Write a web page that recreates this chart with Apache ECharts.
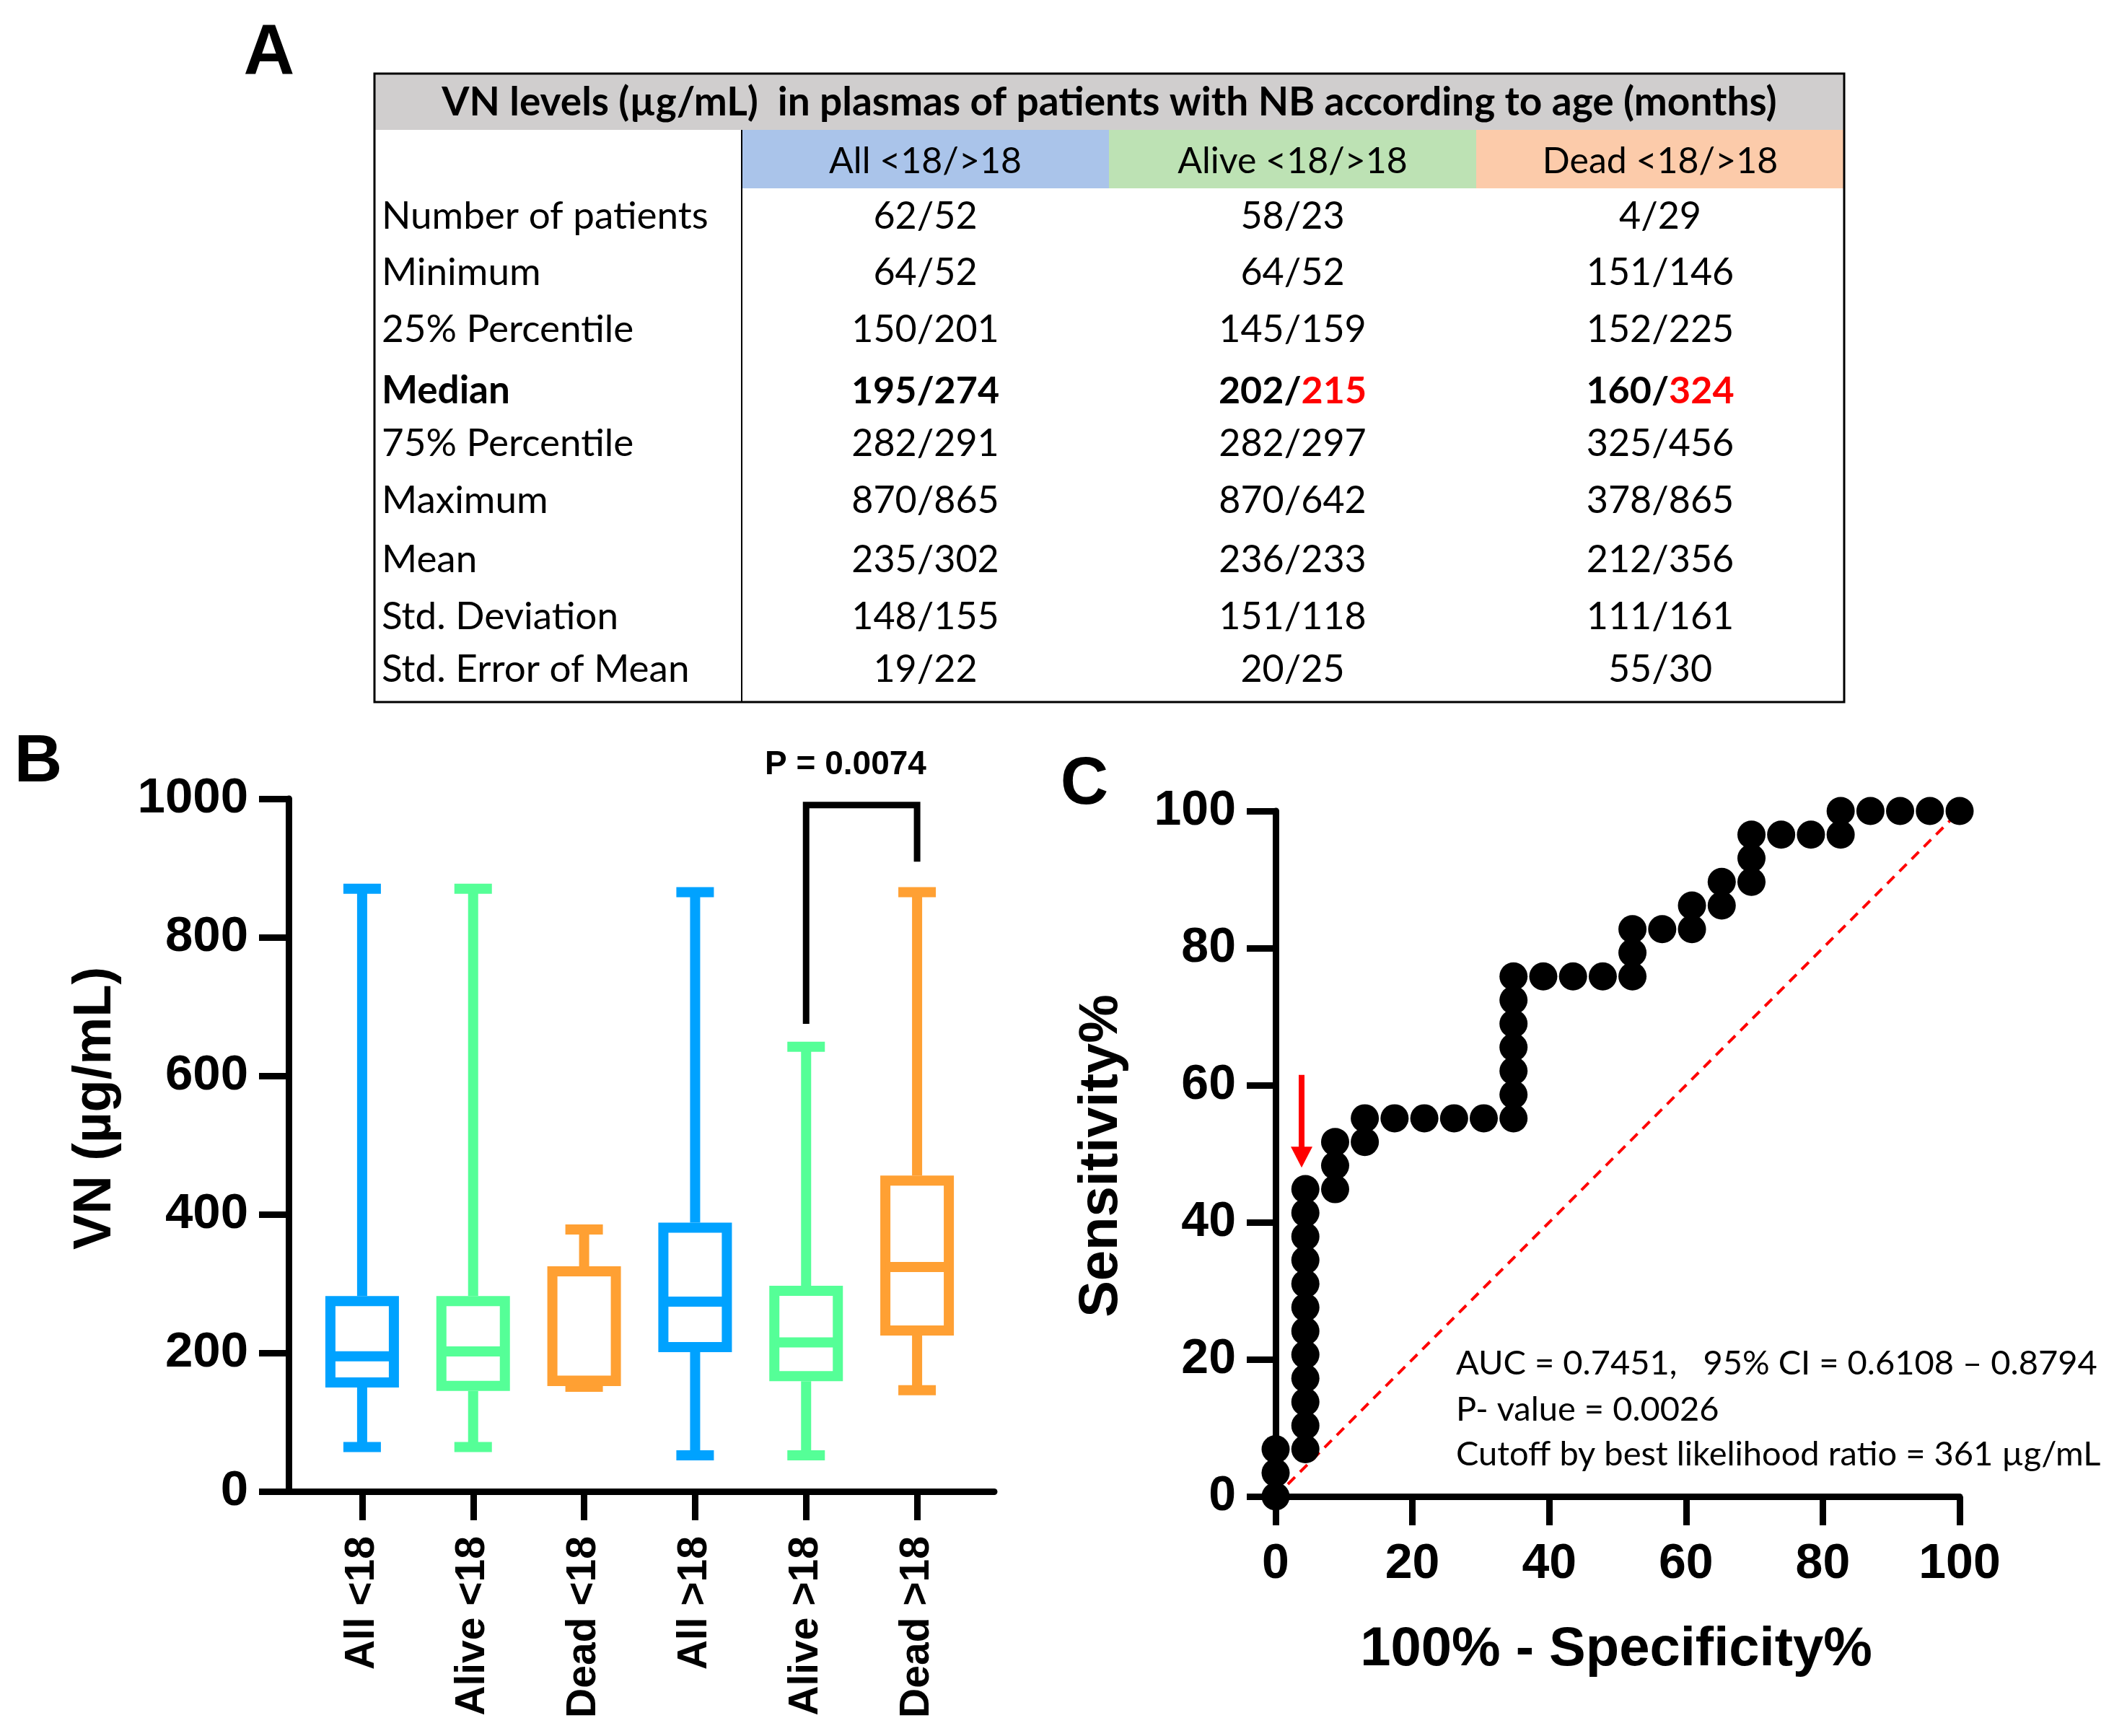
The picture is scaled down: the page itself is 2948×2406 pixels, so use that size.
<!DOCTYPE html>
<html><head><meta charset="utf-8">
<script src="https://cdn.jsdelivr.net/npm/echarts@6/dist/echarts.min.js"></script>
<style>html,body{margin:0;padding:0;background:#fff}#c{width:2948px;height:2406px}</style>
</head><body><div id="c"></div>
<script>
// ---------- Panel A: table ----------
const tableTitle = 'VN levels (µg/mL)  in plasmas of patients with NB according to age (months)';
const tableGroups = ['All <18/>18', 'Alive <18/>18', 'Dead <18/>18'];
const tableRowLabels = ['Number of patients', 'Minimum', '25% Percentile', 'Median', '75% Percentile', 'Maximum', 'Mean', 'Std. Deviation', 'Std. Error of Mean'];
const tableAll   = ['62/52', '64/52', '150/201', '195/274', '282/291', '870/865', '235/302', '148/155', '19/22'];
const tableAlive = ['58/23', '64/52', '145/159', '202/215', '282/297', '870/642', '236/233', '151/118', '20/25'];
const tableDead  = ['4/29', '151/146', '152/225', '160/324', '325/456', '378/865', '212/356', '111/161', '55/30'];
const boldRow = 'Median';
const redSecondPartCols = [1, 2];   // in the Median row, the >18 value is red for Alive and Dead

// ---------- Panel B: box plot ----------
const boxCategories = ['All <18', 'Alive <18', 'Dead <18', 'All >18', 'Alive >18', 'Dead >18'];
const boxMin    = [64, 64, 151, 52, 52, 146];
const boxQ1     = [150, 145, 152, 201, 159, 225];
const boxMedian = [195, 202, 160, 274, 215, 324];
const boxQ3     = [282, 282, 325, 388, 297, 456];
const boxMax    = [870, 870, 378, 865, 642, 865];
const bracketX = ['Alive >18', 'Alive >18', 'Dead >18', 'Dead >18'];
const bracketY = [675, 991, 991, 909];
const pValueText = 'P = 0.0074';
const bTicks = [0, 200, 400, 600, 800, 1000];

// ---------- Panel C: ROC ----------
const rocFPR = [0,0,0,4.35,4.35,4.35,4.35,4.35,4.35,4.35,4.35,4.35,4.35,4.35,4.35,8.7,8.7,8.7,13.04,13.04,17.39,21.74,26.09,30.43,34.78,34.78,34.78,34.78,34.78,34.78,34.78,39.13,43.48,47.83,52.17,52.17,52.17,56.52,60.87,60.87,65.22,65.22,69.57,69.57,69.57,73.91,78.26,82.61,82.61,86.96,91.3,95.65,100];
const rocTPR = [0,3.45,6.9,6.9,10.34,13.79,17.24,20.69,24.14,27.59,31.03,34.48,37.93,41.38,44.83,44.83,48.28,51.72,51.72,55.17,55.17,55.17,55.17,55.17,55.17,58.62,62.07,65.52,68.97,72.41,75.86,75.86,75.86,75.86,75.86,79.31,82.76,82.76,82.76,86.21,86.21,89.66,89.66,93.1,96.55,96.55,96.55,96.55,100,100,100,100,100];
const chanceX = [0, 100];
const chanceY = [0, 100];
const arrowX = 3.8, arrowTop = 61.5, arrowEnd = 49.5;
const rocNotes = ['AUC = 0.7451,   95% CI = 0.6108 – 0.8794', 'P- value = 0.0026', 'Cutoff by best likelihood ratio = 361 µg/mL'];

// ---------- styling ----------
const AX = "'Liberation Sans', Arial, sans-serif";
const TB = "Lato, 'Open Sans', sans-serif";
const boxColors = ['#00A2FF', '#55FF97', '#FFA033', '#00A2FF', '#55FF97', '#FFA033'];
const headerColors = ['#AAC4EA', '#BDE2B4', '#FCCBAA'];

// table layout
const T = {x0: 519, x1: 2556, y0: 102, yHead: 180, yCols: 261, y1: 973, colX: [1028, 1537, 2046, 2556]};
const rowY = [300, 378, 457, 542, 615, 694, 776, 855, 928];

const graphics = [];
graphics.push({type: 'rect', shape: {x: T.x0, y: T.y0, width: T.x1 - T.x0, height: T.yHead - T.y0}, style: {fill: '#D0CECE'}});
tableGroups.forEach((g, i) => {
  graphics.push({type: 'rect', shape: {x: T.colX[i], y: T.yHead, width: T.colX[i + 1] - T.colX[i], height: T.yCols - T.yHead}, style: {fill: headerColors[i]}});
  graphics.push({type: 'text', x: (T.colX[i] + T.colX[i + 1]) / 2, y: 224, style: {text: g, font: `50px ${TB}`, fill: '#000', align: 'center', verticalAlign: 'middle'}});
});
graphics.push({type: 'line', shape: {x1: T.colX[0], y1: T.yHead, x2: T.colX[0], y2: T.y1}, style: {stroke: '#000', lineWidth: 2}});
graphics.push({type: 'rect', shape: {x: T.x0, y: T.y0, width: T.x1 - T.x0, height: T.y1 - T.y0}, style: {fill: 'none', stroke: '#000', lineWidth: 3}});
graphics.push({type: 'text', x: (T.x0 + T.x1) / 2, y: 142, style: {text: tableTitle, font: `bold 55px ${TB}`, fill: '#000', align: 'center', verticalAlign: 'middle'}});
const cols = [tableAll, tableAlive, tableDead];
tableRowLabels.forEach((lab, r) => {
  const isBold = lab === boldRow;
  const w = isBold ? 'bold ' : '';
  graphics.push({type: 'text', x: 529, y: rowY[r], style: {text: lab, font: `${w}53px ${TB}`, fill: '#000', align: 'left', verticalAlign: 'middle'}});
  cols.forEach((col, c) => {
    let txt = col[r];
    if (isBold && redSecondPartCols.includes(c)) {
      const parts = txt.split('/');
      txt = parts[0] + '/{r|' + parts[1] + '}';
    }
    graphics.push({type: 'text', x: (T.colX[c] + T.colX[c + 1]) / 2, y: rowY[r], style: {
      text: txt, font: `${w}52px ${TB}`, fill: '#000', align: 'center', verticalAlign: 'middle',
      rich: {r: {fill: '#FF0000', font: `${w}52px ${TB}`}}
    }});
  });
});
// panel letters
graphics.push({type: 'text', x: 373, y: 75, style: {text: 'A', font: `bold 98px ${AX}`, fill: '#000', align: 'center', verticalAlign: 'middle'}});
graphics.push({type: 'text', x: 53, y: 1058, style: {text: 'B', font: `bold 92px ${AX}`, fill: '#000', align: 'center', verticalAlign: 'middle'}});
graphics.push({type: 'text', x: 1503, y: 1089, style: {text: 'C', font: `bold 92px ${AX}`, fill: '#000', align: 'center', verticalAlign: 'middle'}});
// axis titles & annotations
graphics.push({type: 'text', x: 133, y: 1536, rotation: Math.PI / 2, style: {text: 'VN (µg/mL)', font: `bold 74px ${AX}`, fill: '#000', align: 'center', verticalAlign: 'middle'}});
graphics.push({type: 'text', x: 1172, y: 1060, style: {text: pValueText, font: `bold 46px ${AX}`, fill: '#000', align: 'center', verticalAlign: 'middle'}});
graphics.push({type: 'text', x: 1527, y: 1602, rotation: Math.PI / 2, style: {text: 'Sensitivity%', font: `bold 76px ${AX}`, fill: '#000', align: 'center', verticalAlign: 'middle'}});
graphics.push({type: 'text', x: 2240, y: 2287, style: {text: '100% - Specificity%', font: `bold 76px ${AX}`, fill: '#000', align: 'center', verticalAlign: 'middle'}});
const noteY = [1890, 1954, 2016];
rocNotes.forEach((t, i) => graphics.push({type: 'text', x: 2018, y: noteY[i], style: {text: t, font: `47px ${TB}`, fill: '#000', align: 'left', verticalAlign: 'middle'}}));

const axisLineStyle = {color: '#000', width: 9};
const tickStyle = {color: '#000', width: 9};
const plainNum = v => String(v);

const option = {
  animation: false,
  backgroundColor: '#fff',
  grid: [
    {left: 425, top: 1107, width: 923, height: 960, containLabel: false, outerBoundsMode: 'none'},
    {left: 400, top: 1107, width: 978, height: 960, containLabel: false, outerBoundsMode: 'none'},
    {left: 1768, top: 1124, width: 948, height: 950, containLabel: false, outerBoundsMode: 'none'}
  ],
  xAxis: [
    {gridIndex: 0, type: 'category', data: boxCategories, boundaryGap: true,
      axisLine: {show: false}, axisTick: {show: true, alignWithLabel: true, length: 40, lineStyle: tickStyle},
      axisLabel: {rotate: 90, margin: 62, fontFamily: AX, fontWeight: 'bold', fontSize: 57, color: '#000', interval: 0},
      splitLine: {show: false}},
    {gridIndex: 1, type: 'value', min: 0, max: 1, axisLine: {show: true, lineStyle: axisLineStyle},
      axisTick: {show: false}, axisLabel: {show: false}, splitLine: {show: false}},
    {gridIndex: 2, type: 'value', min: 0, max: 100, interval: 20,
      axisLine: {show: true, onZero: false, lineStyle: axisLineStyle},
      axisTick: {show: true, length: 40, lineStyle: tickStyle},
      axisLabel: {margin: 60, fontFamily: AX, fontWeight: 'bold', fontSize: 68, color: '#000', formatter: plainNum},
      splitLine: {show: false}}
  ],
  yAxis: [
    {gridIndex: 0, type: 'value', min: bTicks[0], max: bTicks[bTicks.length - 1], interval: bTicks[1] - bTicks[0], offset: 25,
      axisLine: {show: true, lineStyle: axisLineStyle},
      axisTick: {show: true, length: 41, lineStyle: tickStyle},
      axisLabel: {margin: 56, fontFamily: AX, fontWeight: 'bold', fontSize: 69, color: '#000', formatter: plainNum},
      splitLine: {show: false}},
    {gridIndex: 1, type: 'value', min: 0, max: 1, show: false},
    {gridIndex: 2, type: 'value', min: 0, max: 100, interval: 20,
      axisLine: {show: true, onZero: false, lineStyle: axisLineStyle},
      axisTick: {show: true, length: 40, lineStyle: tickStyle},
      axisLabel: {margin: 55, fontFamily: AX, fontWeight: 'bold', fontSize: 68, color: '#000', formatter: plainNum},
      splitLine: {show: false}}
  ],
  series: [
    {
      type: 'custom', xAxisIndex: 0, yAxisIndex: 0,
      data: boxCategories.map((c, i) => [i, boxMin[i], boxQ1[i], boxMedian[i], boxQ3[i], boxMax[i]]),
      encode: {x: 0, y: [1, 2, 3, 4, 5]},
      renderItem: function (params, api) {
        const i = api.value(0);
        const x = api.coord([i, 0])[0];
        const yMin = api.coord([i, api.value(1)])[1];
        const yQ1 = api.coord([i, api.value(2)])[1];
        const yMed = api.coord([i, api.value(3)])[1];
        const yQ3 = api.coord([i, api.value(4)])[1];
        const yMax = api.coord([i, api.value(5)])[1];
        const color = boxColors[i];
        const lw = 14, half = 51 - lw / 2, cap = 26;
        const st = {stroke: color, lineWidth: lw, fill: 'none'};
        return {type: 'group', children: [
          {type: 'line', shape: {x1: x, y1: yQ3, x2: x, y2: yMax}, style: st},
          {type: 'line', shape: {x1: x, y1: yQ1, x2: x, y2: yMin}, style: st},
          {type: 'line', shape: {x1: x - cap, y1: yMax, x2: x + cap, y2: yMax}, style: st},
          {type: 'line', shape: {x1: x - cap, y1: yMin, x2: x + cap, y2: yMin}, style: st},
          {type: 'rect', shape: {x: x - half, y: yQ3 + lw / 2, width: 2 * half, height: (yQ1 - yQ3) - lw}, style: {stroke: color, lineWidth: lw, fill: '#fff'}},
          {type: 'line', shape: {x1: x - half, y1: yMed, x2: x + half, y2: yMed}, style: st}
        ]};
      },
      z: 3
    },
    {
      type: 'line', xAxisIndex: 0, yAxisIndex: 0,
      data: bracketX.map((x, i) => [x, bracketY[i]]),
      symbol: 'none', lineStyle: {color: '#000', width: 9, join: 'miter'}, z: 4
    },
    {
      type: 'line', xAxisIndex: 2, yAxisIndex: 2,
      data: chanceX.map((x, i) => [x, chanceY[i]]),
      symbol: 'none', lineStyle: {color: '#FF0000', width: 4, type: [14, 10]}, z: 2,
      markLine: {
        silent: true, symbol: ['none', 'triangle'], symbolSize: [30, 29],
        label: {show: false},
        lineStyle: {color: '#FF0000', width: 8, type: 'solid'},
        data: [[{coord: [arrowX, arrowTop]}, {coord: [arrowX, arrowEnd]}]]
      }
    },
    {
      type: 'scatter', xAxisIndex: 2, yAxisIndex: 2,
      data: rocFPR.map((x, i) => [x, rocTPR[i]]),
      symbol: 'circle', symbolSize: 39, itemStyle: {color: '#000', opacity: 1}, z: 5
    }
  ],
  graphic: graphics
};
const chart = echarts.init(document.getElementById('c'), null, {renderer: 'canvas'});
chart.setOption(option);
</script></body></html>
